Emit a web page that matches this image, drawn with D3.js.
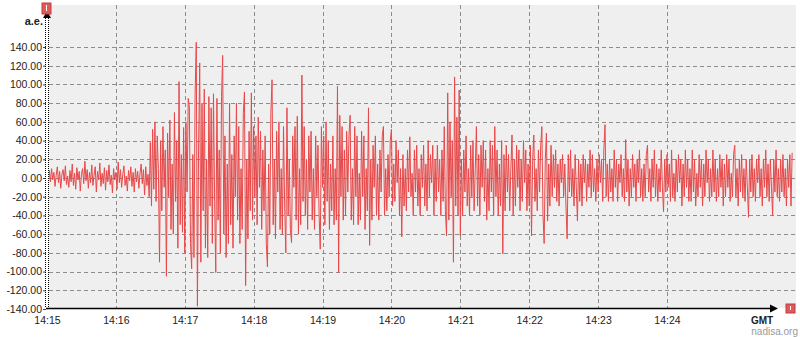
<!DOCTYPE html>
<html>
  <head>
    <meta charset="utf-8">
    <title>Seismogram</title>
    <script src="https://d3js.org/d3.v7.min.js"></script>
    <style>
      body {
        margin: 0;
        background-color: white;
      }
      svg text {
        font-family: "Liberation Sans", Arial, sans-serif;
      }
    </style>
  </head>
  <body>
    <script>
      // x tick labels (one per minute) and y tick values
      const timeTicks = ['14:15', '14:16', '14:17', '14:18', '14:19', '14:20', '14:21', '14:22', '14:23', '14:24'];
      const valueTicks = [-140, -120, -100, -80, -60, -40, -20, 0, 20, 40, 60, 80, 100, 120, 140];

      // one reading per second, starting 14:15:00
      const startTime = '14:15:00';
      const stepSeconds = 1;
      const amplitude = [
        -15, -6, 8, -4, 10, -2, 6, -9, 3, 12,
        -5, 7, -11, 4, 9, -3, 13, -7, 2, -10,
        8, -4, 15, -8, 5, -12, 11, -2, 7, -14,
        4, 10, -6, 18, -3, 9, -11, 6, -5, 14,
        -8, 3, 12, -15, 7, -2, 16, -9, 5, -6,
        11, -13, 8, -4, 14, -7, 3, -16, 10, -2,
        6, -12, 17, -5, 9, -10, 4, 13, -8, 2,
        -14, 8, -3, 12, -9, 6, -15, 10, -4, 7,
        -11, 5, 15, -6, 9, -18, 12, -8, 4, -20,
        38, -30, 52, -12, 60, -25, 45, 10, -90, 40,
        -35, 55, -10, 30, -105, 48, -20, 62, -55, 15,
        -60, 70, -25, 40, -75, 103, -50, 25, -58, 54,
        -80, 60, -15, 85, 76, -70, -97, 25, -85, 90,
        145, -137, 30, 123, -90, 80, -35, 95, -75, 20,
        -85, 87, -30, 75, -70, 90, -25, -101, 85, -45,
        30, -80, 87, 131, -60, 45, -85, 15, -70, 80,
        -50, 25, -75, 45, -20, 80, -45, 55, -70, 10,
        -55, 70, 92, -115, 20, -65, 50, -35, 91, -45,
        55, -20, 45, -50, 65, -10, 50, -55, 30, -35,
        45, -70, -95, 15, -60, 70, 105, -50, 20, -65,
        50, -15, 60, -55, 10, -60, 55, -30, -80, 75,
        -40, 20, -55, -69, 45, -10, 55, -45, 66, -60,
        10, -50, 110, -25, 55, -40, 20, -55, 45, -15,
        50, -45, 10, -55, 45, -20, 35, -40, -76, 55,
        -10, 45, -50, 60, -25, 40, -55, 15, -35, 45,
        -50, 10, -45, 98, -101, 67, -20, 55, -45, 30,
        -40, 50, -15, 45, 67, -45, 10, -50, 55, -20,
        45, -50, 5, -45, 50, -20, 45, -55, 10, -35,
        75, -72, 20, -45, 35, -10, 45, -40, 15, -45,
        30, -15, 45, 55, -40, 10, -35, 25, -20, 40,
        52, -30, 15, -25, 40, -5, 30, -40, 10, -63,
        25, -30, 10, -35, 30, -15, 44, -20, 5, -40,
        30, -15, 35, -30, 10, -40, 25, -10, 35, -30,
        15, -35, 40, -20, 25, -5, 35, -40, 20, -25,
        35, -15, 20, -40, 30, -25, 55, -35, -62, 91,
        -45, 60, -20, 40, -90, 108, -30, 65, -40, 94,
        -62, 20, -40, 30, -15, 45, -30, 10, -40, 35,
        -20, 40, -35, 10, 55, -30, 25, -40, 35, -10,
        40, -25, 30, -45, 10, -35, 40, -15, 35, -40,
        55, -20, 30, -40, 15, -30, 40, -81, 25, -35,
        35, -15, 25, -35, 10, 46, -40, 20, -30, 35,
        -10, 30, -35, 20, -25, 40, -5, 30, -35, 15,
        -30, 35, -62, 20, 46, -25, 10, -35, 30, -15,
        35, 55, -40, -70, 20, 48, -46, 15, -30, 35,
        -20, 25, -10, 30, -25, 15, -30, 20, -5, 25,
        -20, 15, -30, -65, 25, -15, 30, -20, 10, -30,
        25, -10, -46, 20, -25, 15, -30, 25, -5, 20,
        -25, 15, -10, 30, -20, 25, -15, 10, -25, 20,
        -15, 25, -5, 20, -25, 30, 57, -20, 15, -25,
        20, -15, 10, -25, 30, -10, 20, -25, 15, -5,
        25, -20, 10, -25, 41, -15, 20, -30, 10, -20,
        25, -10, 15, -25, 20, -5, 30, -20, 10, -25,
        15, -20, 25, 35, -15, 10, -25, 20, -10, 30,
        -20, 15, -25, 10, -15, 30, -10, -36, 20, -15,
        25, -10, 15, -25, 30, -20, 5, -25, 20, -15,
        25, -5, 20, -30, 15, -20, 30, -10, 20, -25,
        10, -25, 30, -15, 20, -30, 5, -20, 25, -10,
        20, -30, 15, -20, 30, -5, 20, -25, 10, -20,
        30, -15, 20, -25, 10, -20, 25, -10, 20, -30,
        15, -20, 25, -10, 20, -25, 5, -20, 25, 35,
        -20, 10, -30, 20, -15, 25, -20, 10, -25, 20,
        -10, -42, 20, -15, 25, -20, 10, -25, 20, -5,
        25, -20, 10, -30, 20, -10, 30, -20, 15, -25,
        20, -10, -40, 20, -15, 30, -20, 10, -25, 20,
        -15, 25, -20, 10, -30, 20, -10, 25, -30, 27
      ];

      const w = 800;
      const h = 337;
      const plotLeft = 47;
      const plotTop = 5;
      const plotRight = 796;
      const plotBottom = 308;

      const parseClock = d3.timeParse('%H:%M:%S');
      const parseMinute = d3.timeParse('%H:%M');
      const t0 = parseClock(startTime);

      const data = amplitude.map((v, i) => ({
        t: new Date(t0.getTime() + i * stepSeconds * 1000),
        v: v
      }));

      // 14:15 -> 14:24 spans x 47..667, later times extrapolate to the right edge
      const xScale = d3.scaleTime()
                       .domain([parseMinute(timeTicks[0]), parseMinute(timeTicks[timeTicks.length - 1])])
                       .range([plotLeft, 667]);

      const yScale = d3.scaleLinear()
                       .domain([-140, 140])
                       .range([plotBottom + 1, 47]);

      const svg = d3.select('body')
                    .append('svg')
                    .attr('width', w)
                    .attr('height', h);

      svg.append('defs')
         .append('clipPath')
         .attr('id', 'plot-clip')
         .append('rect')
         .attr('x', plotLeft + 2)
         .attr('y', plotTop)
         .attr('width', plotRight - plotLeft - 2)
         .attr('height', plotBottom - plotTop);

      // plot background
      svg.append('rect')
         .attr('x', plotLeft + 2)
         .attr('y', plotTop)
         .attr('width', plotRight - plotLeft - 2)
         .attr('height', plotBottom - plotTop)
         .attr('fill', '#efefef');

      // grid
      svg.append('g')
         .selectAll('line')
         .data(valueTicks.filter(d => d > -140))
         .enter()
         .append('line')
         .attr('x1', plotLeft + 2)
         .attr('x2', plotRight)
         .attr('y1', d => Math.round(yScale(d)) + 0.5)
         .attr('y2', d => Math.round(yScale(d)) + 0.5)
         .attr('stroke', '#8c8c8c')
         .attr('stroke-dasharray', '4,3');

      svg.append('g')
         .selectAll('line')
         .data(timeTicks.slice(1))
         .enter()
         .append('line')
         .attr('x1', d => Math.round(xScale(parseMinute(d))) + 0.5)
         .attr('x2', d => Math.round(xScale(parseMinute(d))) + 0.5)
         .attr('y1', plotTop)
         .attr('y2', plotBottom)
         .attr('stroke', '#8c8c8c')
         .attr('stroke-dasharray', '4,3');

      // signal
      const line = d3.line()
                     .x(d => xScale(d.t))
                     .y(d => yScale(d.v));

      svg.append('path')
         .datum(data)
         .attr('clip-path', 'url(#plot-clip)')
         .attr('d', line)
         .attr('fill', 'none')
         .attr('stroke', '#e84849')
         .attr('stroke-width', 1)
         .attr('stroke-linejoin', 'miter');

      // y axis labels
      const yAxis = d3.axisLeft(yScale)
                      .tickValues(valueTicks)
                      .tickSize(3)
                      .tickPadding(1)
                      .tickFormat(d => d.toFixed(2));

      const gy = svg.append('g')
                    .attr('transform', `translate(${plotLeft - 1}, 0)`)
                    .call(yAxis);
      gy.select('.domain').remove();
      gy.selectAll('text')
        .attr('font-size', 10.5)
        .attr('fill', '#222');
      gy.selectAll('line').attr('stroke', '#444');

      // y axis: double dotted line with arrow
      [plotLeft - 1.5, plotLeft + 1.5].forEach(x => {
        svg.append('line')
           .attr('x1', x).attr('x2', x)
           .attr('y1', 14).attr('y2', plotBottom)
           .attr('stroke', '#000')
           .attr('stroke-dasharray', '1,1');
      });
      svg.append('path')
         .attr('d', `M${plotLeft - 4},18 L${plotLeft},11 L${plotLeft + 4},18 Z`)
         .attr('fill', '#000');

      // x axis labels
      const xAxis = d3.axisBottom(xScale)
                      .tickValues(timeTicks.map(parseMinute))
                      .tickSize(0)
                      .tickPadding(9)
                      .tickFormat(d3.timeFormat('%H:%M'));

      const gx = svg.append('g')
                    .attr('transform', `translate(0, ${plotBottom})`)
                    .call(xAxis);
      gx.select('.domain').remove();
      gx.selectAll('text')
        .attr('font-size', 10.5)
        .attr('fill', '#222');

      // x axis line with arrow
      svg.append('line')
         .attr('x1', plotLeft - 1).attr('x2', 772)
         .attr('y1', plotBottom + 0.5).attr('y2', plotBottom + 0.5)
         .attr('stroke', '#000')
         .attr('stroke-width', 1.5);
      svg.append('path')
         .attr('d', `M770,${plotBottom - 3.5} L778,${plotBottom + 0.5} L770,${plotBottom + 4.5} Z`)
         .attr('fill', '#000');

      // red markers
      const markers = [[42, 3, 9, 11], [786, 304, 9, 9]];
      markers.forEach(m => {
        svg.append('rect')
           .attr('x', m[0]).attr('y', m[1])
           .attr('width', m[2]).attr('height', m[3])
           .attr('fill', '#e15a5a')
           .attr('stroke', '#c23c3c');
        svg.append('line')
           .attr('x1', m[0] + m[2] / 2).attr('x2', m[0] + m[2] / 2)
           .attr('y1', m[1] + 2).attr('y2', m[1] + m[3] - 3)
           .attr('stroke', '#fff')
           .attr('stroke-width', 1);
      });

      // labels
      svg.append('text')
         .attr('x', 43)
         .attr('y', 25)
         .attr('text-anchor', 'end')
         .attr('font-size', 11)
         .attr('font-weight', 'bold')
         .attr('fill', '#222')
         .text('a.e.');

      svg.append('text')
         .attr('x', 762)
         .attr('y', 324)
         .attr('text-anchor', 'middle')
         .attr('font-size', 10)
         .attr('font-weight', 'bold')
         .attr('fill', '#222')
         .text('GMT');

      svg.append('text')
         .attr('x', 798)
         .attr('y', 335)
         .attr('text-anchor', 'end')
         .attr('font-size', 10)
         .attr('fill', '#9a9a9a')
         .text('nadisa.org');
    </script>
  </body>
</html>
